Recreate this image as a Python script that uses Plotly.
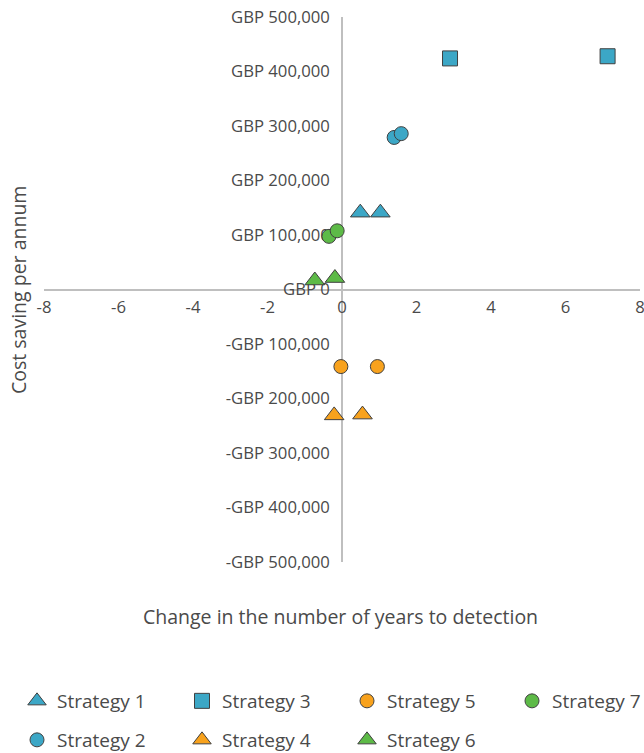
import plotly.graph_objects as go

# ---- data ----
strategy_names = ["Strategy 1", "Strategy 2", "Strategy 3", "Strategy 4",
                  "Strategy 5", "Strategy 6", "Strategy 7"]
s1_x = [0.49, 1.03]
s1_y = [141000, 141000]
s2_x = [1.40, 1.59]
s2_y = [279000, 286000]
s3_x = [2.90, 7.13]
s3_y = [424000, 428000]
s4_x = [-0.21, 0.55]
s4_y = [-231000, -229500]
s5_x = [-0.03, 0.95]
s5_y = [-141400, -141400]
s6_x = [-0.73, -0.19]
s6_y = [16500, 21000]
s7_x = [-0.35, -0.13]
s7_y = [97500, 107700]

x_tickvals = [-8, -6, -4, -2, 0, 2, 4, 6, 8]
x_ticktext = ["-8", "-6", "-4", "-2", "0", "2", "4", "6", "8"]
y_tickvals = [500000, 400000, 300000, 200000, 100000, 0,
              -100000, -200000, -300000, -400000, -500000]
y_ticktext = ["GBP 500,000", "GBP 400,000", "GBP 300,000", "GBP 200,000",
              "GBP 100,000", "GBP 0", "-GBP 100,000", "-GBP 200,000",
              "-GBP 300,000", "-GBP 400,000", "-GBP 500,000"]

x_title = "Change in the number of years to detection"
y_title = "Cost saving per annum"

BLUE = "#3CA7C6"
ORANGE = "#F8A21D"
GREEN = "#5DBA47"
EDGE = "#404040"
FONT = "Open Sans"
TXT = "#4A4A4A"

W, H = 644, 753
L, R, T, B = 44, 4, 17, 191
PW, PH = W - L - R, H - T - B


def px_x(p):
    return (p - L) / PW


def px_y(p):
    return (H - B - p) / PH


series = [
    # name, x, y, color, symbol, size, legend id, legend px x, legend px y
    (strategy_names[0], s1_x, s1_y, BLUE, "triangle-up", 17, "legend", 17, 701),
    (strategy_names[2], s3_x, s3_y, BLUE, "square", 15, "legend2", 182, 701),
    (strategy_names[4], s5_x, s5_y, ORANGE, "circle", 14, "legend3", 347, 701),
    (strategy_names[6], s7_x, s7_y, GREEN, "circle", 14, "legend4", 512, 701),
    (strategy_names[1], s2_x, s2_y, BLUE, "circle", 14, "legend5", 17, 740),
    (strategy_names[3], s4_x, s4_y, ORANGE, "triangle-up", 17, "legend6", 182, 740),
    (strategy_names[5], s6_x, s6_y, GREEN, "triangle-up", 17, "legend7", 347, 740),
]

fig = go.Figure()
legend_layouts = {}
for name, xs, ys, col, sym, size, lg, lx, ly in series:
    fig.add_trace(go.Scatter(
        x=xs, y=ys, mode="markers", name=name, legend=lg,
        marker=dict(color=col, symbol=sym, size=size,
                    line=dict(color=EDGE, width=1)),
    ))
    legend_layouts[lg] = dict(
        x=px_x(lx), y=px_y(ly), xanchor="left", yanchor="middle",
        orientation="h", bgcolor="rgba(0,0,0,0)", borderwidth=0,
        font=dict(family=FONT, size=19, color=TXT),
    )

fig.update_layout(
    width=W, height=H,
    margin=dict(l=L, r=R, t=T, b=B, autoexpand=False),
    paper_bgcolor="white", plot_bgcolor="white",
    font=dict(family=FONT, color=TXT),
    showlegend=True,
    xaxis=dict(
        range=[-8, 8], anchor="free", position=0.5,
        tickvals=x_tickvals, ticktext=x_ticktext,
        showgrid=False, zeroline=False, showline=True,
        linecolor="#BFBFBF", linewidth=1.5, ticks="",
        ticklabelstandoff=3, ticklabeloverflow="allow", layer="below traces",
        tickfont=dict(family=FONT, size=16.7, color=TXT),
    ),
    yaxis=dict(
        range=[-500000, 500000], anchor="free", position=0.5,
        tickvals=y_tickvals, ticktext=y_ticktext,
        showgrid=False, zeroline=False, showline=True,
        linecolor="#BFBFBF", linewidth=1.5, ticks="",
        ticklabelstandoff=8, ticklabeloverflow="allow", layer="below traces",
        tickfont=dict(family=FONT, size=16.7, color=TXT),
    ),
    annotations=[
        dict(text=x_title, xref="paper", yref="paper",
             x=px_x(340), y=px_y(616), xanchor="center", yanchor="middle",
             showarrow=False, font=dict(family=FONT, size=19.5, color=TXT)),
        dict(text=y_title, xref="paper", yref="paper",
             x=px_x(18), y=px_y(290), xanchor="center", yanchor="middle",
             textangle=-90, showarrow=False,
             font=dict(family=FONT, size=19.5, color=TXT)),
    ],
    **legend_layouts,
)

fig.write_html(
    "out.html",
    config={"displayModeBar": False},
    post_script="document.body.style.margin='0';document.body.style.overflow='hidden';",
)
